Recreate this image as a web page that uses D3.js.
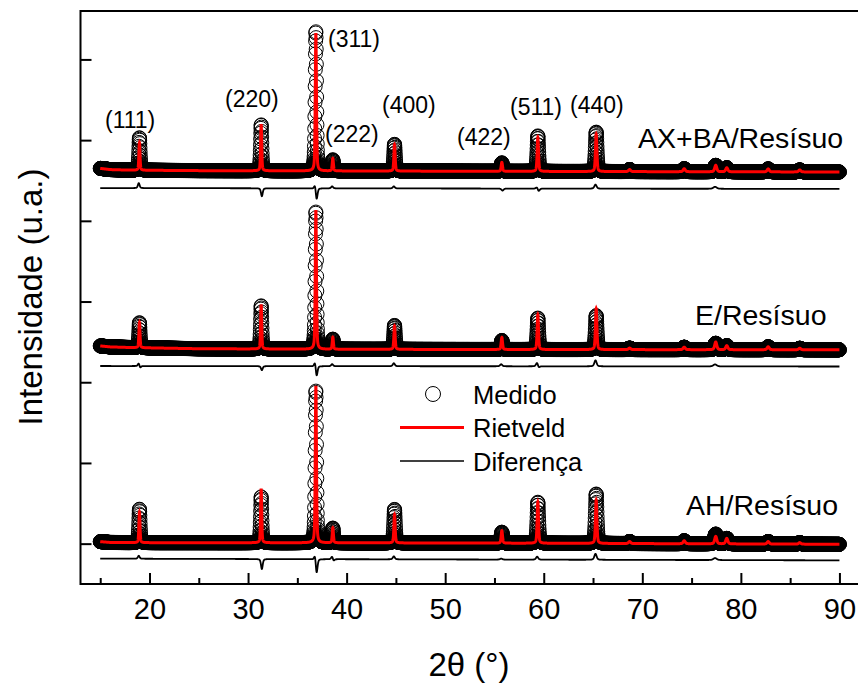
<!DOCTYPE html>
<html lang="pt">
<head>
<meta charset="utf-8">
<title>Refinamento Rietveld</title>
<script src="https://cdn.jsdelivr.net/npm/d3@7"></script>
<style>
  body { margin: 0; background: #fff; }
  svg text { font-family: Arial, "Liberation Sans", sans-serif; fill: #000; }
  .axis path { display: none; }
  .axis line { stroke: #000; stroke-width: 2px; }
</style>
</head>
<body>
<svg id="chart" width="858" height="684"></svg>
<script>
// reflection positions, 2θ (°), and their widths (FWHM, °)
var peakPos  = [18.98, 31.33, 36.88, 38.60, 44.86, 55.75, 59.40, 65.32, 68.71, 74.25, 77.45, 78.57, 82.77, 85.97];
var peakFwhm = [0.13, 0.13, 0.14, 0.14, 0.15, 0.16, 0.16, 0.17, 0.25, 0.25, 0.25, 0.25, 0.25, 0.25];
var hklLabels = ["(111)", "(220)", "(311)", "(222)", "(400)", "(422)", "(511)", "(440)"];

var sampleNames = ["AX+BA/Resísuo", "E/Resísuo", "AH/Resísuo"];
var legendNames = ["Medido", "Rietveld", "Diferença"];

// peak heights above background (a.u.), one row per sample
var obsHeights = [
  [403, 570, 1728, 136, 332, 105, 440, 489, 25, 37, 80, 50, 37, 25],
  [310, 536, 1704, 124, 297, 112, 390, 421, 19, 31, 80, 50, 37, 19],
  [416, 570, 1885, 181, 416, 136, 508, 613, 25, 37, 121, 68, 31, 19]
];
var calcHeights = [
  [341, 576, 1707, 155, 328, 111, 421, 465, 25, 37, 80, 50, 37, 25],
  [313, 549, 1722, 149, 291, 149, 434, 510, 19, 31, 95, 50, 37, 19],
  [379, 669, 1946, 186, 351, 155, 514, 539, 25, 37, 93, 68, 31, 19]
];

// background levels (a.u.) at these 2θ knots
var bgKnots = [15, 16, 18, 25, 40, 60, 90];
var bgLevels = [
  [4650, 4635, 4628, 4622, 4618, 4612, 4605],
  [2450, 2438, 2430, 2415, 2408, 2405, 2402],
  [25, 15, 12, 12, 10, 5, -8]
];

// difference curve: level at 15° and 90°, spikes up / down at each reflection
var diffLevels = [[4406, 4395], [2201, 2195], [-186, -207]];
var diffUp = [
  [62, 0, 62, 25, 25, 0, 25, 50, 0, 0, 25, 0, 0, 0],
  [37, 0, 68, 25, 37, 25, 50, 74, 0, 0, 25, 0, 0, 0],
  [37, 0, 74, 37, 37, 12, 37, 74, 0, 0, 25, 0, 0, 0]
];
var diffDown = [
  [0, 99, 149, 0, 0, 25, 37, 0, 0, 0, 0, 0, 0, 0],
  [25, 50, 136, 0, 0, 0, 25, 0, 0, 0, 0, 0, 0, 0],
  [0, 124, 186, 25, 0, 0, 0, 0, 0, 0, 0, 0, 0, 0]
];

var svg = d3.select("#chart");

var x = d3.scaleLinear().domain([13, 93]).range([80.5, 869]);
var y = d3.scaleLinear().domain([-500, 6600]).range([584, 11]);

// pseudo-Voigt peak shape
function pv(dx, w) {
  var t = 4 * dx * dx / (w * w);
  return 0.4 / (1 + t) + 0.6 * Math.exp(-Math.LN2 * t);
}

var bgScales = bgLevels.map(function(lv) { return d3.scaleLinear().domain(bgKnots).range(lv); });

function profile(k, heights, t, widen) {
  var s = bgScales[k](t);
  for (var i = 0; i < peakPos.length; i++) {
    s += heights[k][i] * pv(t - peakPos[i], peakFwhm[i] * widen);
  }
  return s;
}

function diffAt(k, t) {
  var s = diffLevels[k][0] + (diffLevels[k][1] - diffLevels[k][0]) * (t - 15) / 75;
  for (var i = 0; i < peakPos.length; i++) {
    s += diffUp[k][i] * pv(t - peakPos[i] + 0.07, peakFwhm[i] * 1.6);
    s -= diffDown[k][i] * pv(t - peakPos[i] - 0.07, peakFwhm[i] * 1.6);
  }
  return s;
}

var obsSteps = d3.range(15, 90.0001, 0.015);
var fineSteps = d3.range(15, 90.0001, 0.005);

var line = d3.line()
  .x(function(d) { return x(d[0]); })
  .y(function(d) { return y(d[1]); });

sampleNames.forEach(function(name, k) {
  var g = svg.append("g").attr("class", "sample");

  g.append("g").selectAll("circle")
    .data(obsSteps.map(function(t) { return [t, profile(k, obsHeights, t, 1.2)]; }))
    .join("circle")
    .attr("cx", function(d) { return x(d[0]); })
    .attr("cy", function(d) { return y(d[1]); })
    .attr("r", 7)
    .attr("fill", "none")
    .attr("stroke", "#000")
    .attr("stroke-width", 1);

  g.append("path")
    .datum(fineSteps.map(function(t) { return [t, profile(k, calcHeights, t, 1)]; }))
    .attr("d", line)
    .attr("fill", "none")
    .attr("stroke", "#ff0000")
    .attr("stroke-width", 3);

  g.append("path")
    .datum(fineSteps.map(function(t) { return [t, diffAt(k, t)]; }))
    .attr("d", line)
    .attr("fill", "none")
    .attr("stroke", "#000")
    .attr("stroke-width", 1.8);
});

// frame
svg.append("rect")
  .attr("x", x.range()[0]).attr("y", y.range()[1])
  .attr("width", x.range()[1] - x.range()[0])
  .attr("height", y.range()[0] - y.range()[1])
  .attr("fill", "none").attr("stroke", "#000").attr("stroke-width", 2);

// axes, ticks pointing inward
svg.append("g").attr("class", "axis")
  .attr("transform", "translate(0," + y.range()[0] + ")")
  .call(d3.axisBottom(x).tickValues(d3.range(20, 91, 10)).tickSize(-11).tickPadding(14))
  .selectAll("text").style("font-size", "29px");

svg.append("g").attr("class", "axis")
  .attr("transform", "translate(0," + y.range()[0] + ")")
  .call(d3.axisBottom(x).tickValues(d3.range(15, 86, 10)).tickSize(-6).tickFormat(""));

svg.append("g").attr("class", "axis")
  .attr("transform", "translate(" + x.range()[0] + ",0)")
  .call(d3.axisLeft(y).tickValues(d3.range(0, 6001, 1000)).tickSize(-11).tickFormat(""));

// axis titles
svg.append("text")
  .attr("transform", "translate(41.5,297) rotate(-90)")
  .attr("text-anchor", "middle")
  .style("font-size", "33px")
  .text("Intensidade (u.a.)");

svg.append("text")
  .attr("x", 469).attr("y", 676)
  .attr("text-anchor", "middle")
  .style("font-size", "33px")
  .text("2θ (°)");

// Miller indices over the top pattern
var hklSpots = [[105, 128], [225, 107], [328, 47], [325, 142], [382, 113], [457, 145], [510, 115], [570, 113]];
svg.append("g").selectAll("text")
  .data(hklLabels)
  .join("text")
  .attr("x", function(d, i) { return hklSpots[i][0]; })
  .attr("y", function(d, i) { return hklSpots[i][1]; })
  .style("font-size", "23px")
  .text(function(d) { return d; });

// sample names
var nameSpots = [[638, 148], [695, 325], [686, 515]];
svg.append("g").selectAll("text")
  .data(sampleNames)
  .join("text")
  .attr("x", function(d, i) { return nameSpots[i][0]; })
  .attr("y", function(d, i) { return nameSpots[i][1]; })
  .style("font-size", "28.5px")
  .text(function(d) { return d; });

// legend
var legend = svg.append("g").attr("transform", "translate(400,394)");
legend.append("circle").attr("cx", 33).attr("cy", 0).attr("r", 7.5)
  .attr("fill", "none").attr("stroke", "#000").attr("stroke-width", 1);
legend.append("line").attr("x1", 0).attr("x2", 64).attr("y1", 33.5).attr("y2", 33.5)
  .attr("stroke", "#ff0000").attr("stroke-width", 3);
legend.append("line").attr("x1", 0).attr("x2", 64).attr("y1", 67).attr("y2", 67)
  .attr("stroke", "#000").attr("stroke-width", 1.6);
legend.selectAll("text.lbl")
  .data(legendNames)
  .join("text")
  .attr("class", "lbl")
  .attr("x", 73)
  .attr("y", function(d, i) { return 9.5 + i * 33.5; })
  .style("font-size", "25.5px")
  .text(function(d) { return d; });
</script>
</body>
</html>
